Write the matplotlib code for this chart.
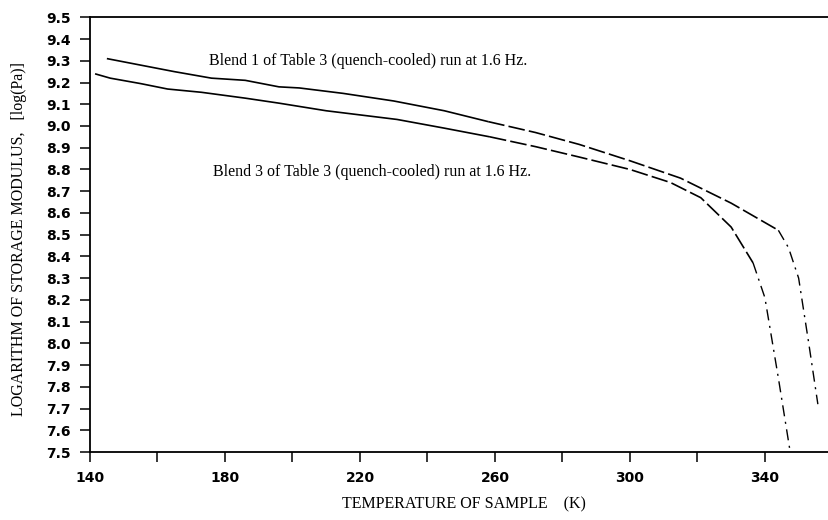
import matplotlib
matplotlib.use("Agg")
import matplotlib.pyplot as plt
import numpy as np

### values
blend1_T = [145, 155, 165, 176, 186, 196, 202, 215, 230, 245, 258, 272, 285, 300, 315, 330, 344, 347, 350, 353, 355.7]
blend1_logE = [9.31, 9.28, 9.25, 9.22, 9.21, 9.18, 9.175, 9.15, 9.115, 9.07, 9.02, 8.97, 8.915, 8.84, 8.76, 8.645, 8.52, 8.44, 8.30, 8.00, 7.72]

blend3_T = [141.5, 146, 155, 163, 173, 186, 196, 210, 231, 245, 258.5, 272, 285, 300, 312, 321, 330, 336.5, 340, 344, 347.5]
blend3_logE = [9.24, 9.22, 9.195, 9.17, 9.155, 9.128, 9.105, 9.07, 9.03, 8.99, 8.95, 8.905, 8.857, 8.80, 8.74, 8.67, 8.535, 8.37, 8.21, 7.84, 7.5]

blend1_label = "Blend 1 of Table 3 (quench-cooled) run at 1.6 Hz."
blend3_label = "Blend 3 of Table 3 (quench-cooled) run at 1.6 Hz."

x_ticks = np.arange(140, 360, 20)
y_ticks = np.round(np.arange(7.5, 9.51, 0.1), 1)

serif = ["Liberation Serif", "DejaVu Serif"]


def draw_curve(ax, T, E, dash_from, dashdot_from):
    T = np.asarray(T)
    E = np.asarray(E)
    ### plotter style: solid, then dashed, then sparse dash-dot on the drop
    solid = T <= dash_from
    dashed = (T >= dash_from) & (T <= dashdot_from)
    dashdot = T >= dashdot_from
    ax.plot(T[solid], E[solid], color="black", lw=1.2, solid_capstyle="butt")
    ax.plot(T[dashed], E[dashed], color="black", lw=1.2, dashes=(10, 2.5))
    ax.plot(T[dashdot], E[dashdot], color="black", lw=1.0, dashes=(8, 4, 1.5, 4))


fig = plt.figure(figsize=(8.29, 5.20), dpi=100)
ax = fig.add_axes([90 / 829, 68 / 520, 1 - 90 / 829, (452 - 17.3) / 520])

draw_curve(ax, blend1_T, blend1_logE, 258, 344)
draw_curve(ax, blend3_T, blend3_logE, 258.5, 336.5)

ax.text(175.3, 9.30, blend1_label, family=serif, fontsize=11.5, va="center", ha="left")
ax.text(176.5, 8.79, blend3_label, family=serif, fontsize=11.5, va="center", ha="left")

ax.set_xlim(140, 359)
ax.set_ylim(7.5, 9.5)

ax.set_xticks(x_ticks)
ax.set_xticklabels([str(t) if (t - 140) % 40 == 0 else "" for t in x_ticks])
ax.set_yticks(y_ticks)
ax.set_yticklabels([f"{v:.1f}" for v in y_ticks])

ax.tick_params(axis="both", direction="out", length=7, width=1.1, labelsize=10)
ax.tick_params(axis="x", pad=7)
ax.tick_params(axis="y", pad=7)
for lab in ax.get_xticklabels() + ax.get_yticklabels():
    lab.set_fontweight("bold")
    lab.set_family("DejaVu Sans")

ax.spines["right"].set_visible(False)
for s in ["left", "bottom", "top"]:
    ax.spines[s].set_linewidth(1.3)

ax.set_xlabel("TEMPERATURE OF SAMPLE    (K)", family=serif, fontsize=11.5)
ax.set_ylabel("LOGARITHM OF STORAGE MODULUS,   [log(Pa)]", family=serif, fontsize=11.5)
ax.xaxis.set_label_coords(0.506, -0.101)
ax.yaxis.set_label_coords(-0.085, 0.49)

plt.savefig("out.png", dpi=100)
plt.close()
